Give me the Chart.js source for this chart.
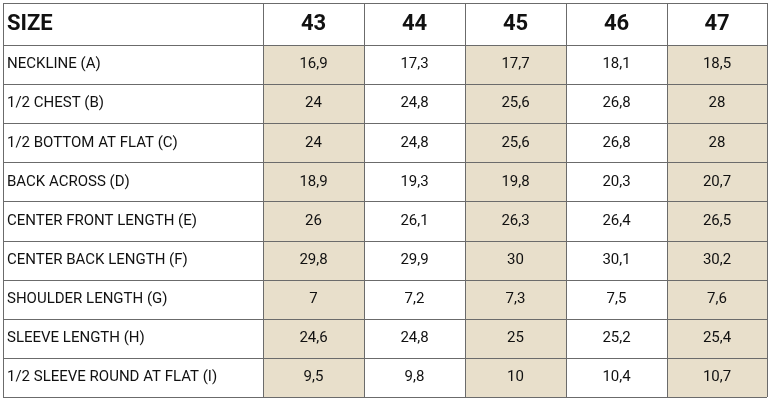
<!DOCTYPE html>
<html><head><meta charset="utf-8">
<script src="https://cdn.jsdelivr.net/npm/chart.js@4"></script>
<style>body{margin:0;background:#fff}</style>
</head><body>
<canvas id="c" width="770" height="400"></canvas>
<script>
const sizes = ["43", "44", "45", "46", "47"];
const measures = [
  "NECKLINE (A)", "1/2 CHEST (B)", "1/2 BOTTOM AT FLAT (C)", "BACK ACROSS (D)",
  "CENTER FRONT LENGTH (E)", "CENTER BACK LENGTH (F)", "SHOULDER LENGTH (G)",
  "SLEEVE LENGTH (H)", "1/2 SLEEVE ROUND AT FLAT (I)"
];
const size43 = [16.9, 24, 24, 18.9, 26, 29.8, 7, 24.6, 9.5];
const size44 = [17.3, 24.8, 24.8, 19.3, 26.1, 29.9, 7.2, 24.8, 9.8];
const size45 = [17.7, 25.6, 25.6, 19.8, 26.3, 30, 7.3, 25, 10];
const size46 = [18.1, 26.8, 26.8, 20.3, 26.4, 30.1, 7.5, 25.2, 10.4];
const size47 = [18.5, 28, 28, 20.7, 26.5, 30.2, 7.6, 25.4, 10.7];
const shaded = ["43", "45", "47"];

const columns = [size43, size44, size45, size46, size47];
const colEdges = [0, 260, 361, 462, 563, 664, 764];
const fmt = v => String(v).replace(".", ",");

const tablePlugin = {
  id: "table",
  beforeDatasetsDraw(chart) {
    const ctx = chart.ctx, x = chart.scales.x, y = chart.scales.y;
    const top = y.getPixelForValue(-0.074), bottom = y.getPixelForValue(measures.length + 1);
    // shaded columns
    ctx.fillStyle = "#e8dfcb";
    sizes.forEach((s, i) => {
      if (!shaded.includes(s)) return;
      const x0 = x.getPixelForValue(colEdges[i + 1]), x1 = x.getPixelForValue(colEdges[i + 2]);
      const y0 = y.getPixelForValue(1);
      ctx.fillRect(x0, y0, x1 - x0, bottom - y0);
    });
    // grid
    ctx.strokeStyle = "#6b6b6b";
    ctx.lineWidth = 1;
    ctx.beginPath();
    colEdges.forEach(e => {
      const px = Math.round(x.getPixelForValue(e)) + 0.5;
      ctx.moveTo(px, top); ctx.lineTo(px, bottom);
    });
    for (let r = 0; r <= measures.length + 1; r++) {
      const py = Math.round(y.getPixelForValue(r === 0 ? -0.074 : r)) + 0.5;
      ctx.moveTo(x.getPixelForValue(0), py); ctx.lineTo(x.getPixelForValue(764), py);
    }
    ctx.stroke();
    // header
    ctx.fillStyle = "#111";
    ctx.textBaseline = "middle";
    const hy = y.getPixelForValue(0.47);
    ctx.font = "bold 22px Roboto";
    ctx.textAlign = "left";
    ctx.fillText("SIZE", x.getPixelForValue(4), hy);
    ctx.textAlign = "center";
    sizes.forEach((s, i) => ctx.fillText(s, x.getPixelForValue((colEdges[i + 1] + colEdges[i + 2]) / 2), hy));
    // body
    ctx.font = "15px Roboto";
    measures.forEach((m, r) => {
      const py = y.getPixelForValue(r + 1.5);
      ctx.textAlign = "left";
      ctx.fillText(m, x.getPixelForValue(4), py);
      ctx.textAlign = "center";
      columns.forEach((col, i) => ctx.fillText(fmt(col[r]), x.getPixelForValue((colEdges[i + 1] + colEdges[i + 2]) / 2), py));
    });
  }
};

new Chart(document.getElementById("c"), {
  type: "scatter",
  data: { datasets: [{ data: [], pointRadius: 0 }] },
  options: {
    responsive: false, animation: false, devicePixelRatio: 1,
    layout: { padding: { left: 3, right: 3, top: 3, bottom: 3 } },
    plugins: { legend: { display: false }, tooltip: { enabled: false } },
    scales: {
      x: { type: "linear", min: 0, max: 764, display: false },
      y: { type: "linear", min: -0.074, max: measures.length + 1, reverse: true, display: false }
    }
  },
  plugins: [tablePlugin]
});
</script>
</body></html>
